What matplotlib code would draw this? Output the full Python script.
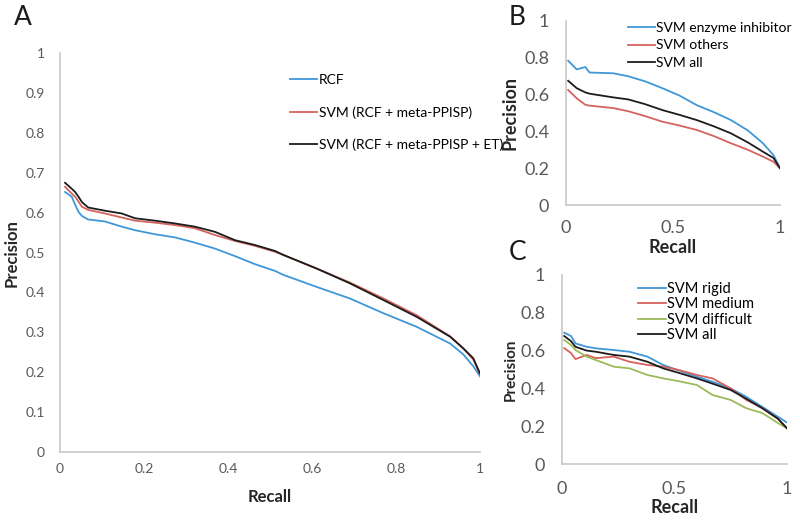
import numpy as np
import matplotlib
matplotlib.use('Agg')
import matplotlib.pyplot as plt

plt.rcParams['font.family'] = ['Lato', 'DejaVu Sans']

# panel A
recall_a = [0.012, 0.028, 0.036, 0.044, 0.052, 0.067, 0.107, 0.147, 0.179, 0.226, 0.274,
            0.321, 0.369, 0.417, 0.464, 0.512, 0.532, 0.611, 0.69, 0.77, 0.849, 0.929,
            0.96, 0.984, 1.0]
rcf = [0.652, 0.64, 0.62, 0.602, 0.592, 0.583, 0.578, 0.565, 0.556, 0.546, 0.538,
       0.525, 0.51, 0.491, 0.471, 0.454, 0.444, 0.414, 0.385, 0.348, 0.314, 0.272,
       0.245, 0.215, 0.19]
svm_meta = [0.665, 0.648, 0.64, 0.628, 0.615, 0.607, 0.598, 0.588, 0.58, 0.575, 0.569,
            0.561, 0.544, 0.529, 0.517, 0.502, 0.494, 0.46, 0.425, 0.385, 0.343, 0.29,
            0.26, 0.232, 0.195]
svm_meta_et = [0.675, 0.66, 0.652, 0.64, 0.627, 0.613, 0.605, 0.598, 0.586, 0.58, 0.573,
               0.565, 0.552, 0.531, 0.519, 0.504, 0.494, 0.46, 0.423, 0.381, 0.339, 0.289,
               0.26, 0.235, 0.197]

# panel B
recall_b = [0.01, 0.05, 0.09, 0.11, 0.22, 0.29, 0.37, 0.45, 0.53, 0.61, 0.69, 0.77,
            0.85, 0.92, 0.97, 1.00]
enzyme = [0.784, 0.737, 0.75, 0.72, 0.716, 0.70, 0.672, 0.635, 0.595, 0.543, 0.505, 0.462,
          0.405, 0.336, 0.27, 0.20]
others = [0.625, 0.58, 0.545, 0.54, 0.527, 0.51, 0.483, 0.453, 0.432, 0.408, 0.375, 0.336,
          0.30, 0.263, 0.235, 0.20]
all_b = [0.675, 0.635, 0.612, 0.605, 0.585, 0.574, 0.548, 0.516, 0.49, 0.462, 0.428, 0.39,
         0.34, 0.29, 0.255, 0.20]

# panel C
recall_c = [0.01, 0.04, 0.06, 0.11, 0.15, 0.23, 0.30, 0.38, 0.45, 0.52, 0.60, 0.67,
            0.75, 0.82, 0.89, 0.96, 1.00]
rigid = [0.695, 0.677, 0.638, 0.62, 0.612, 0.603, 0.594, 0.568, 0.524, 0.495, 0.462, 0.435,
         0.40, 0.355, 0.303, 0.25, 0.22]
medium = [0.613, 0.587, 0.555, 0.577, 0.56, 0.568, 0.541, 0.524, 0.515, 0.497, 0.471, 0.453,
          0.40, 0.339, 0.296, 0.24, 0.19]
difficult = [0.656, 0.63, 0.603, 0.568, 0.55, 0.515, 0.506, 0.471, 0.453, 0.438, 0.418, 0.365,
             0.339, 0.295, 0.27, 0.217, 0.19]
all_c = [0.677, 0.65, 0.62, 0.60, 0.594, 0.577, 0.568, 0.541, 0.506, 0.482, 0.453, 0.425,
         0.392, 0.345, 0.296, 0.24, 0.19]

blue = '#3f97d8'
red = '#d6625d'
black = '#1c1c1c'
green = '#9bbb59'
tick_col = '#595959'


def style(ax, fs):
    for s in ['top', 'right']:
        ax.spines[s].set_visible(False)
    for s in ['left', 'bottom']:
        ax.spines[s].set_color('#c8c8c8')
        ax.spines[s].set_linewidth(1.2)
    ax.tick_params(length=0, labelsize=fs, labelcolor=tick_col, pad=8)
    ax.set_xlim(0, 1)
    ax.set_ylim(0, 1)


fig = plt.figure(figsize=(8, 5.21), dpi=100)

axA = fig.add_axes([0.075, 0.1324, 0.525, 0.7656])
axA.plot(recall_a, rcf, color=blue, lw=1.3, label='RCF')
axA.plot(recall_a, svm_meta, color=red, lw=1.3, label='SVM (RCF + meta-PPISP)')
axA.plot(recall_a, svm_meta_et, color=black, lw=1.3, label='SVM (RCF + meta-PPISP + ET)')
style(axA, 10)
axA.set_xticks([0, 0.2, 0.4, 0.6, 0.8, 1])
axA.set_xticklabels(['0', '0.2', '0.4', '0.6', '0.8', '1'])
axA.set_yticks(np.arange(0, 1.01, 0.1))
axA.set_yticklabels(['0', '0.1', '0.2', '0.3', '0.4', '0.5', '0.6', '0.7', '0.8', '0.9', '1'])
axA.tick_params(axis='y', pad=11)
axA.set_xlabel('Recall', fontsize=12, fontweight='bold', color='#262626', labelpad=10)
axA.set_ylabel('Precision', fontsize=12, fontweight='bold', color='#262626', labelpad=4)
axA.legend(loc='upper left', bbox_to_anchor=(0.356, 0.868), bbox_transform=fig.transFigure,
           frameon=False, fontsize=10, handlelength=1.9, handletextpad=0.15,
           labelspacing=1.42, borderaxespad=0)

axB = fig.add_axes([0.7075, 0.6065, 0.2675, 0.3532])
axB.plot(recall_b, enzyme, color=blue, lw=1.3, label='SVM enzyme inhibitor')
axB.plot(recall_b, others, color=red, lw=1.3, label='SVM others')
axB.plot(recall_b, all_b, color=black, lw=1.3, label='SVM all')
style(axB, 13)
axB.set_xticks([0, 0.5, 1])
axB.set_xticklabels(['0', '0.5', '1'])
axB.set_yticks([0, 0.2, 0.4, 0.6, 0.8, 1])
axB.set_yticklabels(['0', '0.2', '0.4', '0.6', '0.8', '1'])
axB.tick_params(axis='y', pad=12)
axB.tick_params(axis='x', pad=11)
axB.set_xlabel('Recall', fontsize=13, fontweight='bold', color='#262626', labelpad=2)
axB.set_ylabel('Precision', fontsize=13, fontweight='bold', color='#262626', labelpad=4)
axB.legend(loc='upper left', bbox_to_anchor=(0.7775, 0.968), bbox_transform=fig.transFigure,
           frameon=False, fontsize=10, handlelength=1.95, handletextpad=0.12,
           labelspacing=0.37, borderaxespad=0)

axC = fig.add_axes([0.7025, 0.1094, 0.281, 0.3628])
axC.plot(recall_c, rigid, color=blue, lw=1.3, label='SVM rigid')
axC.plot(recall_c, medium, color=red, lw=1.3, label='SVM medium')
axC.plot(recall_c, difficult, color=green, lw=1.3, label='SVM difficult')
axC.plot(recall_c, all_c, color=black, lw=1.3, label='SVM all')
style(axC, 13)
axC.set_xticks([0, 0.5, 1])
axC.set_xticklabels(['0', '0.5', '1'])
axC.set_yticks([0, 0.2, 0.4, 0.6, 0.8, 1])
axC.set_yticklabels(['0', '0.2', '0.4', '0.6', '0.8', '1'])
axC.tick_params(axis='y', pad=12)
axC.tick_params(axis='x', pad=12)
axC.set_xlabel('Recall', fontsize=13, fontweight='bold', color='#262626', labelpad=2)
axC.set_ylabel('Precision', fontsize=11, fontweight='bold', color='#262626', labelpad=2)
axC.legend(loc='upper left', bbox_to_anchor=(0.79, 0.47), bbox_transform=fig.transFigure,
           frameon=False, fontsize=10.5, handlelength=1.9, handletextpad=0.1,
           labelspacing=0.1, borderaxespad=0)

fig.text(0.017, 0.967, 'A', fontsize=19, va='center', ha='left', color='#1a1a1a')
fig.text(0.647, 0.967, 'B', fontsize=19, va='center', ha='center', color='#1a1a1a')
fig.text(0.647, 0.516, 'C', fontsize=19, va='center', ha='center', color='#1a1a1a')

fig.savefig('out.png', dpi=100)
